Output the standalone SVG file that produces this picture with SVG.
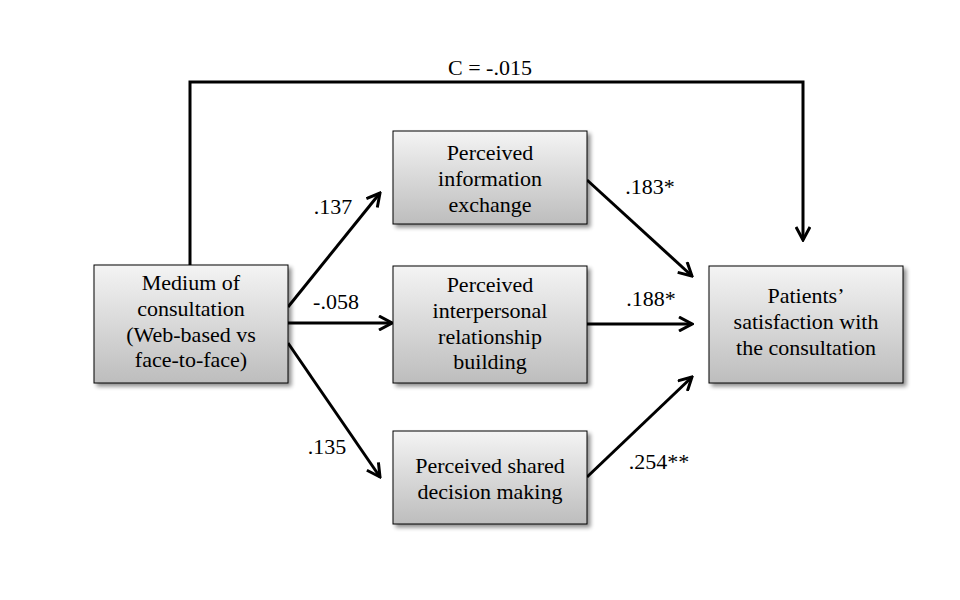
<svg xmlns="http://www.w3.org/2000/svg" width="960" height="600" viewBox="0 0 960 600">
<defs>
<linearGradient id="g" x1="0" y1="0" x2="0" y2="1">
<stop offset="0" stop-color="#f4f4f4"/>
<stop offset="1" stop-color="#bdbdbd"/>
</linearGradient>
<filter id="sh" x="-10%" y="-10%" width="130%" height="130%">
<feGaussianBlur in="SourceAlpha" stdDeviation="2"/>
<feOffset dx="3" dy="3" result="b"/>
<feComponentTransfer><feFuncA type="linear" slope="0.45"/></feComponentTransfer>
<feMerge><feMergeNode/><feMergeNode in="SourceGraphic"/></feMerge>
</filter>
<marker id="ah" markerWidth="16" markerHeight="16" viewBox="-14 -8 16 16" refX="0" refY="0" orient="auto" markerUnits="userSpaceOnUse">
<polyline points="-13,-7 0,0 -13,7" fill="none" stroke="#000" stroke-width="3" stroke-linejoin="miter"/>
</marker>
</defs>
<style>
.box{fill:url(#g);stroke:#000;stroke-width:1;filter:url(#sh)}
.t{font-size:22px;fill:#000;text-anchor:middle}
.c{fill:none;stroke:#000;stroke-width:3}
</style>
<rect width="960" height="600" fill="#fff"/>
<g font-family="'Liberation Serif', 'DejaVu Serif', serif">
<g id="connectors">
<polyline class="c" points="190,265 190,82 803,82 803,240" marker-end="url(#ah)"/>
<line class="c" x1="288" y1="307" x2="380" y2="193" marker-end="url(#ah)"/>
<line class="c" x1="288" y1="323" x2="392" y2="323" marker-end="url(#ah)"/>
<line class="c" x1="288" y1="343" x2="380" y2="477" marker-end="url(#ah)"/>
<line class="c" x1="587" y1="180" x2="692" y2="276" marker-end="url(#ah)"/>
<line class="c" x1="587" y1="324" x2="692" y2="324" marker-end="url(#ah)"/>
<line class="c" x1="587" y1="477" x2="692" y2="377" marker-end="url(#ah)"/>
<text class="t" x="490" y="75">C = -.015</text>
<text class="t" x="333" y="214">.137</text>
<text class="t" x="336" y="309">-.058</text>
<text class="t" x="327" y="454">.135</text>
<text class="t" x="650" y="194">.183*</text>
<text class="t" x="651" y="306">.188*</text>
<text class="t" x="659" y="469">.254**</text>
</g>
<g id="medium">
<rect class="box" x="94" y="265" width="194" height="118"/>
<text class="t" x="191" y="290">Medium of</text>
<text class="t" x="191" y="316">consultation</text>
<text class="t" x="191" y="342">(Web-based vs</text>
<text class="t" x="191" y="367">face-to-face)</text>
</g>
<g id="info">
<rect class="box" x="393" y="131" width="194" height="93"/>
<text class="t" x="490" y="160">Perceived</text>
<text class="t" x="490" y="186">information</text>
<text class="t" x="490" y="212">exchange</text>
</g>
<g id="interpersonal">
<rect class="box" x="393" y="266" width="194" height="117"/>
<text class="t" x="490" y="292">Perceived</text>
<text class="t" x="490" y="318">interpersonal</text>
<text class="t" x="490" y="344">relationship</text>
<text class="t" x="490" y="369">building</text>
</g>
<g id="shared">
<rect class="box" x="393" y="431" width="194" height="93"/>
<text class="t" x="490" y="473">Perceived shared</text>
<text class="t" x="490" y="499">decision making</text>
</g>
<g id="satisfaction">
<rect class="box" x="709" y="266" width="194" height="117"/>
<text class="t" x="806" y="303">Patients’</text>
<text class="t" x="806" y="329">satisfaction with</text>
<text class="t" x="806" y="355">the consultation</text>
</g>
</g>
</svg>
